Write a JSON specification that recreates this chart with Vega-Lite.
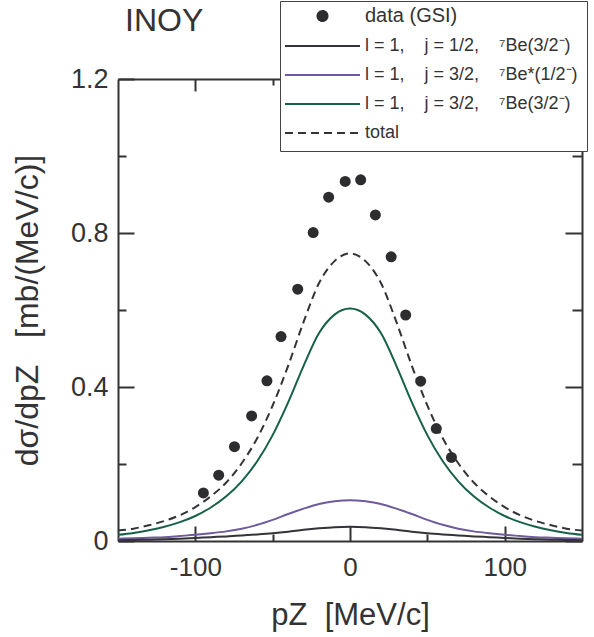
{
  "$schema": "https://vega.github.io/schema/vega-lite/v6.json",
  "width": 464,
  "height": 462,
  "autosize": {"type": "none"},
  "padding": {"left": 118, "top": 79, "right": 12, "bottom": 96},
  "background": "white",
  "title": {"text": "INOY", "anchor": "start", "frame": "group", "fontSize": 32, "fontWeight": "normal", "color": "#333", "font": "Liberation Sans", "dx": 7, "offset": 0, "dy": 62, "baseline": "alphabetic"},
  "config": {
    "font": "Liberation Sans",
    "view": {"stroke": null},
    "axis": {"domainColor": "#333", "tickColor": "#333", "labelColor": "#333", "titleColor": "#333", "grid": false, "labelFont": "Liberation Sans", "titleFont": "Liberation Sans", "titleFontWeight": "normal", "domainWidth": 2, "tickWidth": 2}
  },
  "data": {"values": [
    {"series": "data", "x": -94.8, "y": 0.125},
    {"series": "data", "x": -84.9, "y": 0.171},
    {"series": "data", "x": -74.7, "y": 0.245},
    {"series": "data", "x": -63.6, "y": 0.325},
    {"series": "data", "x": -53.7, "y": 0.416},
    {"series": "data", "x": -44.6, "y": 0.531},
    {"series": "data", "x": -33.8, "y": 0.654},
    {"series": "data", "x": -23.8, "y": 0.801},
    {"series": "data", "x": -13.8, "y": 0.893},
    {"series": "data", "x": -3.1, "y": 0.934},
    {"series": "data", "x": 6.9, "y": 0.938},
    {"series": "data", "x": 16.4, "y": 0.847},
    {"series": "data", "x": 26.6, "y": 0.738},
    {"series": "data", "x": 36.0, "y": 0.587},
    {"series": "data", "x": 45.7, "y": 0.415},
    {"series": "data", "x": 55.8, "y": 0.292},
    {"series": "data", "x": 65.6, "y": 0.217},

    {"series": "j32", "x": -150, "y": 0.016},
    {"series": "j32", "x": -140, "y": 0.021},
    {"series": "j32", "x": -130, "y": 0.028},
    {"series": "j32", "x": -120, "y": 0.037},
    {"series": "j32", "x": -110, "y": 0.049},
    {"series": "j32", "x": -100, "y": 0.065},
    {"series": "j32", "x": -90, "y": 0.087},
    {"series": "j32", "x": -80, "y": 0.116},
    {"series": "j32", "x": -70, "y": 0.155},
    {"series": "j32", "x": -60, "y": 0.207},
    {"series": "j32", "x": -50, "y": 0.275},
    {"series": "j32", "x": -40, "y": 0.36},
    {"series": "j32", "x": -30, "y": 0.455},
    {"series": "j32", "x": -20, "y": 0.54},
    {"series": "j32", "x": -10, "y": 0.588},
    {"series": "j32", "x": 0, "y": 0.604},
    {"series": "j32", "x": 10, "y": 0.588},
    {"series": "j32", "x": 20, "y": 0.54},
    {"series": "j32", "x": 30, "y": 0.455},
    {"series": "j32", "x": 40, "y": 0.36},
    {"series": "j32", "x": 50, "y": 0.275},
    {"series": "j32", "x": 60, "y": 0.207},
    {"series": "j32", "x": 70, "y": 0.155},
    {"series": "j32", "x": 80, "y": 0.116},
    {"series": "j32", "x": 90, "y": 0.087},
    {"series": "j32", "x": 100, "y": 0.065},
    {"series": "j32", "x": 110, "y": 0.049},
    {"series": "j32", "x": 120, "y": 0.037},
    {"series": "j32", "x": 130, "y": 0.028},
    {"series": "j32", "x": 140, "y": 0.021},
    {"series": "j32", "x": 150, "y": 0.016},

    {"series": "j32s", "x": -150, "y": 0.006},
    {"series": "j32s", "x": -140, "y": 0.007},
    {"series": "j32s", "x": -130, "y": 0.0085},
    {"series": "j32s", "x": -120, "y": 0.01},
    {"series": "j32s", "x": -110, "y": 0.013},
    {"series": "j32s", "x": -100, "y": 0.016},
    {"series": "j32s", "x": -90, "y": 0.02},
    {"series": "j32s", "x": -80, "y": 0.025},
    {"series": "j32s", "x": -70, "y": 0.032},
    {"series": "j32s", "x": -60, "y": 0.042},
    {"series": "j32s", "x": -50, "y": 0.055},
    {"series": "j32s", "x": -40, "y": 0.07},
    {"series": "j32s", "x": -30, "y": 0.084},
    {"series": "j32s", "x": -20, "y": 0.096},
    {"series": "j32s", "x": -10, "y": 0.103},
    {"series": "j32s", "x": 0, "y": 0.106},
    {"series": "j32s", "x": 10, "y": 0.103},
    {"series": "j32s", "x": 20, "y": 0.096},
    {"series": "j32s", "x": 30, "y": 0.084},
    {"series": "j32s", "x": 40, "y": 0.07},
    {"series": "j32s", "x": 50, "y": 0.055},
    {"series": "j32s", "x": 60, "y": 0.042},
    {"series": "j32s", "x": 70, "y": 0.032},
    {"series": "j32s", "x": 80, "y": 0.025},
    {"series": "j32s", "x": 90, "y": 0.02},
    {"series": "j32s", "x": 100, "y": 0.016},
    {"series": "j32s", "x": 110, "y": 0.013},
    {"series": "j32s", "x": 120, "y": 0.01},
    {"series": "j32s", "x": 130, "y": 0.0085},
    {"series": "j32s", "x": 140, "y": 0.007},
    {"series": "j32s", "x": 150, "y": 0.006},

    {"series": "j12", "x": -150, "y": 0.002},
    {"series": "j12", "x": -140, "y": 0.0027},
    {"series": "j12", "x": -130, "y": 0.0035},
    {"series": "j12", "x": -120, "y": 0.0045},
    {"series": "j12", "x": -110, "y": 0.006},
    {"series": "j12", "x": -100, "y": 0.008},
    {"series": "j12", "x": -90, "y": 0.01},
    {"series": "j12", "x": -80, "y": 0.012},
    {"series": "j12", "x": -70, "y": 0.0145},
    {"series": "j12", "x": -60, "y": 0.017},
    {"series": "j12", "x": -50, "y": 0.02},
    {"series": "j12", "x": -40, "y": 0.024},
    {"series": "j12", "x": -30, "y": 0.029},
    {"series": "j12", "x": -20, "y": 0.033},
    {"series": "j12", "x": -10, "y": 0.036},
    {"series": "j12", "x": 0, "y": 0.037},
    {"series": "j12", "x": 10, "y": 0.036},
    {"series": "j12", "x": 20, "y": 0.033},
    {"series": "j12", "x": 30, "y": 0.029},
    {"series": "j12", "x": 40, "y": 0.024},
    {"series": "j12", "x": 50, "y": 0.02},
    {"series": "j12", "x": 60, "y": 0.017},
    {"series": "j12", "x": 70, "y": 0.0145},
    {"series": "j12", "x": 80, "y": 0.012},
    {"series": "j12", "x": 90, "y": 0.01},
    {"series": "j12", "x": 100, "y": 0.008},
    {"series": "j12", "x": 110, "y": 0.006},
    {"series": "j12", "x": 120, "y": 0.0045},
    {"series": "j12", "x": 130, "y": 0.0035},
    {"series": "j12", "x": 140, "y": 0.0027},
    {"series": "j12", "x": 150, "y": 0.002},

    {"series": "total", "x": -150, "y": 0.027},
    {"series": "total", "x": -140, "y": 0.032},
    {"series": "total", "x": -130, "y": 0.041},
    {"series": "total", "x": -120, "y": 0.052},
    {"series": "total", "x": -110, "y": 0.067},
    {"series": "total", "x": -100, "y": 0.088},
    {"series": "total", "x": -90, "y": 0.116},
    {"series": "total", "x": -80, "y": 0.152},
    {"series": "total", "x": -70, "y": 0.202},
    {"series": "total", "x": -60, "y": 0.267},
    {"series": "total", "x": -50, "y": 0.352},
    {"series": "total", "x": -40, "y": 0.455},
    {"series": "total", "x": -30, "y": 0.569},
    {"series": "total", "x": -20, "y": 0.67},
    {"series": "total", "x": -10, "y": 0.727},
    {"series": "total", "x": 0, "y": 0.747},
    {"series": "total", "x": 10, "y": 0.727},
    {"series": "total", "x": 20, "y": 0.67},
    {"series": "total", "x": 30, "y": 0.569},
    {"series": "total", "x": 40, "y": 0.455},
    {"series": "total", "x": 50, "y": 0.352},
    {"series": "total", "x": 60, "y": 0.267},
    {"series": "total", "x": 70, "y": 0.202},
    {"series": "total", "x": 80, "y": 0.152},
    {"series": "total", "x": 90, "y": 0.116},
    {"series": "total", "x": 100, "y": 0.088},
    {"series": "total", "x": 110, "y": 0.067},
    {"series": "total", "x": 120, "y": 0.052},
    {"series": "total", "x": 130, "y": 0.041},
    {"series": "total", "x": 140, "y": 0.032},
    {"series": "total", "x": 150, "y": 0.027}
  ]},
  "encoding": {
    "color": {
      "field": "series", "type": "nominal",
      "scale": {"domain": ["data", "j12", "j32s", "j32", "total"], "range": ["#2d2d30", "#333338", "#6e5a9c", "#17604a", "#333338"]},
      "legend": {
        "orient": "none", "legendX": 162, "legendY": -78, "title": null,
        "fillColor": "white", "strokeColor": "#444", "padding": 9,
        "symbolSize": 100, "symbolStrokeWidth": 2, "rowPadding": 11, "labelOffset": 64, "labelLimit": 400,
        "labelFontSize": 18, "labelFont": "Liberation Sans", "labelColor": "#333",
        "labelExpr": "datum.value === 'data' ? 'data (GSI)' : datum.value === 'j12' ? 'l = 1,\u00a0\u00a0\u00a0 j = 1/2,\u00a0\u00a0\u00a0 \u2077Be(3/2\u207b)' : datum.value === 'j32s' ? 'l = 1,\u00a0\u00a0\u00a0 j = 3/2,\u00a0\u00a0\u00a0 \u2077Be*(1/2\u207b)\u00a0\u00a0\u00a0' : datum.value === 'j32' ? 'l = 1,\u00a0\u00a0\u00a0 j = 3/2,\u00a0\u00a0\u00a0 \u2077Be(3/2\u207b)' : 'total'",
        "encode": {
          "symbols": {"update": {
            "shape": [{"test": "datum.value === 'data'", "value": "M4.5,0A1,1,0,1,0,6.5,0A1,1,0,1,0,4.5,0Z"}, {"value": "M-2,0H13"}],
            "fill": [{"test": "datum.value === 'data'", "value": "#2d2d30"}, {"value": "transparent"}],
            "stroke": [{"test": "datum.value === 'data'", "value": "transparent"}, {"scale": "color", "field": "value"}],
            "strokeDash": [{"test": "datum.value === 'total'", "value": [8, 5]}, {"value": [1, 0]}],
            "strokeWidth": {"value": 2},
            "opacity": {"value": 1}
          }},
          "labels": {"update": {
            "fontSize": [{"test": "datum.value === 'data'", "value": 20}, {"value": 18}]
          }}
        }
      }
    }
  },
  "layer": [
    {
      "transform": [{"filter": {"field": "series", "oneOf": ["j32", "j32s"]}}],
      "mark": {"type": "line", "strokeWidth": 2, "interpolate": "monotone"},
      "encoding": {
        "x": {"field": "x", "type": "quantitative", "scale": {"domain": [-150, 150], "nice": false, "zero": false},
          "axis": {"orient": "bottom", "values": [-50, 50], "tickSize": -7, "labels": false, "title": null, "domain": false}},
        "y": {"field": "y", "type": "quantitative", "scale": {"domain": [0, 1.2], "nice": false},
          "axis": {"orient": "left", "values": [0.2, 0.6, 1.0], "tickSize": -8, "labels": false, "title": null, "domain": false}}
      }
    },
    {
      "transform": [{"filter": {"field": "series", "equal": "j12"}}],
      "mark": {"type": "line", "strokeWidth": 2, "interpolate": "monotone"},
      "encoding": {
        "x": {"field": "x", "type": "quantitative", "scale": {"domain": [-150, 150], "nice": false, "zero": false},
          "axis": {"orient": "top", "values": [-100, 0, 100], "tickSize": -12, "labels": false, "title": null, "domain": true}},
        "y": {"field": "y", "type": "quantitative", "scale": {"domain": [0, 1.2], "nice": false},
          "axis": {"orient": "right", "values": [0, 0.4, 0.8, 1.2], "tickSize": -17, "labels": false, "title": null, "domain": true}}
      }
    },
    {
      "transform": [{"filter": {"field": "series", "equal": "total"}}],
      "mark": {"type": "line", "strokeWidth": 2, "strokeDash": [8, 5], "interpolate": "monotone"},
      "encoding": {
        "x": {"field": "x", "type": "quantitative", "scale": {"domain": [-150, 150], "nice": false, "zero": false},
          "axis": {"orient": "top", "values": [-50, 50], "tickSize": -6, "labels": false, "title": null, "domain": false}},
        "y": {"field": "y", "type": "quantitative", "scale": {"domain": [0, 1.2], "nice": false},
          "axis": {"orient": "right", "values": [0.2, 0.6, 1.0], "tickSize": -10, "labels": false, "title": null, "domain": false}}
      }
    },
    {
      "transform": [{"filter": {"field": "series", "equal": "data"}}],
      "mark": {"type": "point", "filled": true, "size": 121, "opacity": 1},
      "encoding": {
        "x": {"field": "x", "type": "quantitative", "scale": {"domain": [-150, 150], "nice": false, "zero": false},
          "axis": {"orient": "bottom", "values": [-100, 0, 100], "tickSize": -15, "labelFontSize": 26, "labelPadding": 28, "labelExpr": "'' + datum.value", "labelFlush": false,
            "title": "pZ\u00a0\u00a0[MeV/c]", "titleFontSize": 31, "titlePadding": 20, "domain": true}},
        "y": {"field": "y", "type": "quantitative", "scale": {"domain": [0, 1.2], "nice": false},
          "axis": {"orient": "left", "values": [0, 0.4, 0.8, 1.2], "tickSize": -16, "labelFontSize": 27, "labelPadding": 26, "labelExpr": "'' + datum.value",
            "title": "dσ/dpZ\u00a0\u00a0\u00a0[mb/(MeV/c)]", "titleFontSize": 32, "titlePadding": 26, "domain": true}}
      }
    }
  ],
  "resolve": {"axis": {"x": "independent", "y": "independent"}}
}
